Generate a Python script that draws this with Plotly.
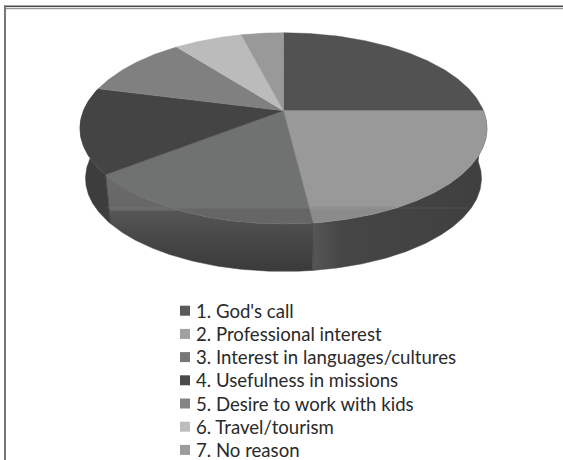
import numpy as np
import plotly.graph_objects as go

categories = [
    "1. God's call",
    "2. Professional interest",
    "3. Interest in languages/cultures",
    "4. Usefulness in missions",
    "5. Desire to work with kids",
    "6. Travel/tourism",
    "7. No reason",
]
shares = [25.0, 23.0, 16.4, 14.5, 10.5, 6.5, 4.0]
top_colors = ["#525252", "#999999", "#707271", "#444444", "#808080", "#bbbbbb", "#999999"]
legend_colors = ["#5a5a5a", "#a0a0a0", "#777777", "#4a4a4a", "#848484", "#bdbdbd", "#9c9c9c"]

WIDTH, HEIGHT = 563, 460
APEX_X, APEX_Y = 283.5, 110.7
RADIUS_X, RADIUS_Y = 200.0, 92.4
TILT = 0.1845          # perspective foreshortening of the disc
DROP, BASE_SCALE = 50.5, 0.973   # offset and shrink of the lower rim
SEAM_Y = 208.0         # height of the faint band across the lower part of the pie


def project(theta, drop=0.0, scale=1.0):
    """Perspective view of a disc point, theta clockwise from 12 o'clock."""
    depth = np.cos(theta)
    across = np.sin(theta)
    w = 1 + TILT * depth
    return (APEX_X + scale * RADIUS_X * across / w,
            APEX_Y + drop - scale * RADIUS_Y * depth / w)


def arc(start, end):
    return np.linspace(start, end, max(int((end - start) / 0.01), 2))


fractions = np.array(shares) / sum(shares)
edges = np.concatenate([[0.0], np.cumsum(fractions)]) * 2 * np.pi

fig = go.Figure()

# Side wall, one band per slice that faces the viewer
side_styles = {
    1: (dict(fillgradient=dict(type="horizontal",
                               colorscale=[[0, "#565656"], [0.16, "#464646"], [1, "#3f3f3f"]])),
        "#454545"),
    2: (dict(fillgradient=dict(type="vertical",
                               colorscale=[[0, "#3a3a3a"], [0.35, "#484848"], [0.62, "#555555"],
                                           [0.63, "#666666"], [1, "#6c6c6c"]])),
        "#4a4a4a"),
    3: (dict(fillcolor="#3d3d3d"), "#3d3d3d"),
}
for i, (style, edge) in side_styles.items():
    t = arc(edges[i], edges[i + 1])
    x_top, y_top = project(t)
    x_low, y_low = project(t, DROP, BASE_SCALE)
    fig.add_trace(go.Scatter(
        x=np.concatenate([x_top, x_low[::-1], x_top[:1]]),
        y=np.concatenate([y_top, y_low[::-1], y_top[:1]]),
        mode="lines", fill="toself", line=dict(width=0.5, color=edge),
        hoverinfo="skip", showlegend=False, **style))

# Top face of the pie; the two front slices darken slightly below the band
top_gradients = {
    1: [[0, "#8b8b8b"], [0.14, "#8b8b8b"], [0.15, "#999999"], [1, "#999999"]],
    2: [[0, "#666666"], [0.14, "#666666"], [0.15, "#707271"], [1, "#707271"]],
}
for i, name in enumerate(categories):
    t = arc(edges[i], edges[i + 1])
    x_rim, y_rim = project(t)
    fill = dict(fillcolor=top_colors[i])
    if i in top_gradients:
        fill = dict(fillgradient=dict(type="vertical", colorscale=top_gradients[i]))
    fig.add_trace(go.Scatter(
        x=np.concatenate([[APEX_X], x_rim, [APEX_X]]),
        y=np.concatenate([[APEX_Y], y_rim, [APEX_Y]]),
        mode="lines", fill="toself",
        line=dict(width=0.4, color=top_colors[i]),
        name=name, hoverinfo="name", showlegend=False, **fill))

# Key below the pie
KEY_SWATCH_X, KEY_TEXT_X, KEY_TOP, KEY_STEP = 185.0, 193.5, 310.7, 23.2
key_y = [KEY_TOP + KEY_STEP * i for i in range(len(categories))]
fig.add_trace(go.Scatter(
    x=[KEY_SWATCH_X] * len(categories), y=key_y, mode="markers",
    marker=dict(symbol="square", size=10, color=legend_colors, line=dict(width=0)),
    hoverinfo="skip", showlegend=False))
annotations = [
    dict(x=KEY_TEXT_X, y=yy, text=name, showarrow=False, xanchor="left", yanchor="middle",
         xref="x", yref="y", font=dict(family="Lato", size=18.6, color="#2a2a2a"))
    for name, yy in zip(categories, key_y)
]

# Frame along the top and left of the page, plus the faint band line
shapes = [
    dict(type="rect", xref="x", yref="y", x0=4, x1=WIDTH, y0=5.5, y1=7,
         fillcolor="#4d4d4d", line=dict(width=0), layer="below"),
    dict(type="rect", xref="x", yref="y", x0=4, x1=WIDTH, y0=7.8, y1=9.2,
         fillcolor="#999999", line=dict(width=0), layer="below"),
    dict(type="rect", xref="x", yref="y", x0=4, x1=6, y0=5.5, y1=HEIGHT,
         fillcolor="#777777", line=dict(width=0), layer="below"),
    dict(type="line", xref="x", yref="y", x0=106, x1=468, y0=SEAM_Y, y1=SEAM_Y,
         line=dict(width=1, color="rgba(255,255,255,0.08)")),
]

fig.update_layout(
    width=WIDTH, height=HEIGHT,
    margin=dict(l=0, r=0, t=0, b=0),
    paper_bgcolor="white", plot_bgcolor="white",
    xaxis=dict(range=[0, WIDTH], visible=False, fixedrange=True),
    yaxis=dict(range=[HEIGHT, 0], visible=False, fixedrange=True),
    shapes=shapes, annotations=annotations,
)
fig.write_html("out.html", config=dict(displayModeBar=False))
